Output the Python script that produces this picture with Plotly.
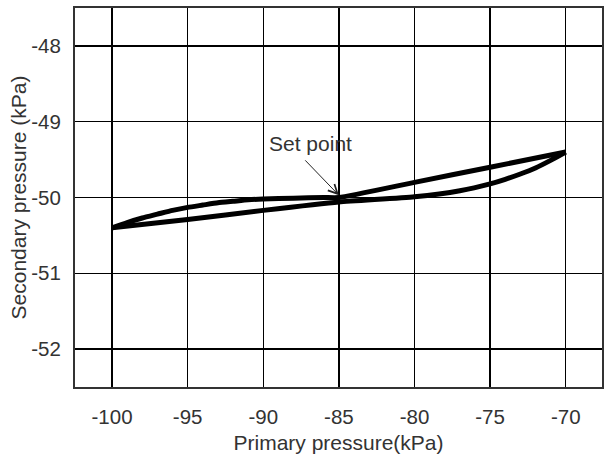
import plotly.graph_objects as go

# Upper branch (increasing primary pressure)
up_x = [-100, -99, -98, -97, -96, -95, -94, -93, -92, -91, -90, -88, -86, -85, -80, -75, -70]
up_y = [-50.40, -50.33, -50.27, -50.22, -50.17, -50.13, -50.10, -50.07, -50.05, -50.03, -50.02, -50.01, -50.00, -50.00, -49.80, -49.60, -49.40]

# Lower branch (decreasing primary pressure)
lo_x = [-70, -71, -72, -73, -74, -75, -77, -80, -85, -90, -95, -100]
lo_y = [-49.40, -49.51, -49.61, -49.69, -49.76, -49.82, -49.91, -49.99, -50.06, -50.17, -50.29, -50.40]

x_ticks = [-100, -95, -90, -85, -80, -75, -70]
y_ticks = [-52, -51, -50, -49, -48]

set_point = (-85, -49.97)
arrow_tail = (-87.32, -49.49)
label_pos = (-86.87, -49.29)
set_label = "Set point"
x_title = "Primary pressure(kPa)"
y_title = "Secondary pressure (kPa)"

fig = go.Figure()
for xs, ys in ((up_x, up_y), (lo_x, lo_y)):
    fig.add_trace(go.Scatter(x=xs, y=ys, mode="lines",
                             line=dict(color="black", width=5, shape="spline", smoothing=0.5),
                             showlegend=False, hoverinfo="skip"))

tick_font = dict(family="Liberation Sans, Arial, sans-serif", size=20.5, color="#333333")
font = dict(family="Liberation Sans, Arial, sans-serif", size=21, color="#333333")

fig.add_annotation(x=set_point[0], y=set_point[1], ax=arrow_tail[0], ay=arrow_tail[1],
                   axref="x", ayref="y", xref="x", yref="y", text="",
                   showarrow=True, arrowhead=5, arrowsize=1.8, arrowwidth=1, arrowcolor="#222222")
fig.add_annotation(x=label_pos[0], y=label_pos[1], xref="x", yref="y", text=set_label,
                   showarrow=False, font=font)
# y-axis title placed precisely
fig.add_annotation(x=-0.1063, y=0.5, xref="paper", yref="paper", text=y_title,
                   textangle=-90, xanchor="center", yanchor="middle",
                   showarrow=False, font=font)

axis_common = dict(showgrid=True, gridcolor="black", gridwidth=1.3,
                   showline=True, linecolor="#333333", linewidth=2, mirror=True,
                   zeroline=False, ticks="", tickfont=tick_font)

fig.update_xaxes(range=[-102.45, -67.6], tickvals=x_ticks, ticktext=[str(v) for v in x_ticks],
                 title=dict(text=x_title, font=font, standoff=9),
                 ticklabelstandoff=10, **axis_common)
fig.update_yaxes(range=[-52.5, -47.5], tickvals=y_ticks, ticktext=[str(v) for v in y_ticks],
                 ticklabelstandoff=8, **axis_common)

fig.update_layout(width=610, height=459, margin=dict(l=75, r=8, t=8, b=72, autoexpand=False),
                  plot_bgcolor="white", paper_bgcolor="white", font=font, hovermode=False)

fig.write_html("out.html", config={"displayModeBar": False, "staticPlot": True},
               post_script="document.body.style.margin='0';document.body.style.overflow='hidden';")
